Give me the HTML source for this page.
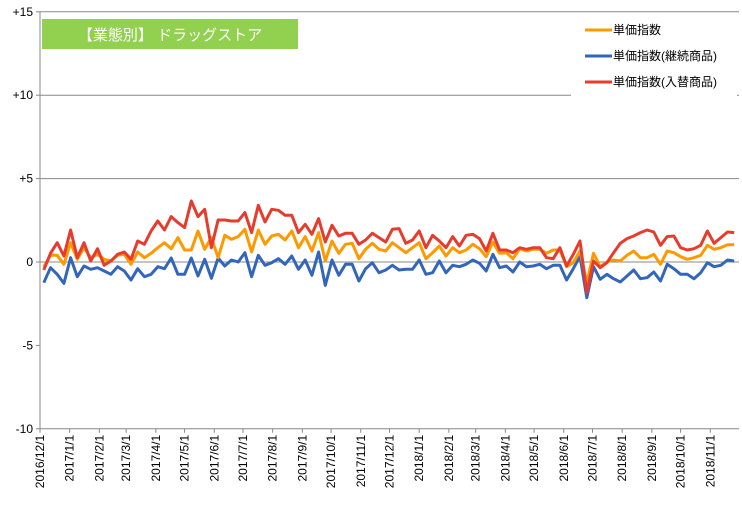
<!DOCTYPE html>
<html><head><meta charset="utf-8"><style>
body{margin:0;background:#fff;}
svg text{font-family:"Liberation Sans","Noto Sans CJK JP",sans-serif;}
</style></head><body>
<svg id="chart" width="742" height="509" xmlns="http://www.w3.org/2000/svg">
<g id="grid"></g>
<g id="yaxis"></g>
<g id="xaxis"></g>
<g id="series"></g>
<rect x="42" y="19" width="256" height="30" fill="#92d050"/>
<text x="170" y="40" text-anchor="middle" font-size="15" fill="#fff">【業態別】 ドラッグストア</text>
<rect x="571" y="13" width="166" height="84" fill="#fff"/>
<g>
<g><line x1="585" y1="30" x2="612" y2="30" stroke="#ff9900" stroke-width="3"/><text x="613" y="34" font-size="12">単価指数</text></g>
<g><line x1="585" y1="56" x2="612" y2="56" stroke="#3366bb" stroke-width="3"/><text x="613" y="60" font-size="12">単価指数(継続商品)</text></g>
<g><line x1="585" y1="82" x2="612" y2="82" stroke="#e63c2e" stroke-width="3"/><text x="613" y="86" font-size="12">単価指数(入替商品)</text></g>
</g>
</svg>
<script>
const yTicks=[15,10,5,0,-5,-10];
const yTickLabels=["+15","+10","+5","0","-5","-10"];
const monthLabels=["2016/12/1","2017/1/1","2017/2/1","2017/3/1","2017/4/1","2017/5/1","2017/6/1","2017/7/1","2017/8/1","2017/9/1","2017/10/1","2017/11/1","2017/12/1","2018/1/1","2018/2/1","2018/3/1","2018/4/1","2018/5/1","2018/6/1","2018/7/1","2018/8/1","2018/9/1","2018/10/1","2018/11/1"];
const firstWeek="2016/12/5";
const unitPrice=[-0.3,0.4,0.4,-0.14,1.16,0.16,0.86,0.26,0.46,0.16,0.06,0.4,0.46,-0.14,0.6,0.26,0.52,0.86,1.16,0.8,1.46,0.72,0.72,1.86,0.76,1.46,0.26,1.6,1.36,1.52,
1.96,0.6,1.92,1.06,1.56,1.66,1.32,1.86,0.86,1.52,0.66,1.76,0.06,1.26,0.52,1.06,1.12,0.2,0.76,1.12,0.76,0.66,1.16,0.86,0.56,0.86,1.16,0.2,0.56,0.96,0.36,0.86,0.56,0.72,1.06,0.8,0.32,
1.2,0.52,0.56,0.2,0.8,0.66,0.76,0.76,0.52,0.72,0.72,-0.28,-0.04,0.66,-1.24,0.52,-0.28,0,0.12,0.06,0.4,0.66,0.26,0.26,0.46,-0.14,0.66,0.56,0.32,0.16,0.26,0.4,1.0,0.76,0.86,1.04,1.04];
const continuing=[-1.24,-0.34,-0.74,-1.28,0.26,-0.88,-0.24,-0.44,-0.34,-0.54,-0.74,-0.28,-0.54,-1.08,-0.4,-0.88,-0.74,-0.28,-0.4,0.24,-0.74,-0.74,0.24,-0.84,0.16,-0.98,0.24,-0.24,0.12,0,
0.56,-0.88,0.4,-0.2,-0.04,0.2,-0.14,0.36,-0.44,0.12,-0.8,0.6,-1.4,0.12,-0.8,-0.14,-0.14,-1.14,-0.4,-0.04,-0.64,-0.48,-0.2,-0.48,-0.44,-0.44,0.12,-0.74,-0.64,0.06,-0.64,-0.2,-0.28,-0.14,0.12,-0.08,-0.54,
0.46,-0.34,-0.24,-0.6,0,-0.28,-0.24,-0.14,-0.4,-0.2,-0.2,-1.08,-0.4,0.36,-2.14,-0.28,-1.04,-0.74,-1.0,-1.2,-0.84,-0.48,-1.0,-0.94,-0.6,-1.14,-0.14,-0.4,-0.74,-0.74,-1.0,-0.64,-0.04,-0.28,-0.2,0.12,0.06];
const replaced=[-0.48,0.52,1.16,0.36,1.92,0.26,1.16,0.06,0.8,-0.2,0.06,0.46,0.6,0.16,1.26,1.06,1.86,2.46,1.92,2.72,2.36,2.06,3.66,2.72,3.16,0.86,2.52,2.52,2.46,2.46,
2.96,1.76,3.4,2.4,3.16,3.1,2.8,2.8,1.76,2.26,1.66,2.6,1.2,2.2,1.56,1.72,1.72,1.06,1.32,1.72,1.46,1.2,1.96,2.0,1.12,1.32,1.86,0.86,1.6,1.26,0.86,1.52,0.96,1.6,1.66,1.4,0.66,
1.72,0.72,0.72,0.56,0.86,0.76,0.86,0.86,0.26,0.2,0.86,-0.24,0.46,1.26,-1.84,0.06,-0.34,-0.04,0.56,1.12,1.4,1.56,1.76,1.92,1.8,1.0,1.52,1.56,0.86,0.72,0.8,1.0,1.86,1.12,1.46,1.8,1.76];

const NS="http://www.w3.org/2000/svg";
const t0=new Date(2016,11,1).getTime(), t1=new Date(2018,11,1).getTime();
const X0=40,X1=739,Y0=262,PPU=16.68;
function xDate(d){return X0+(d.getTime()-t0)/(t1-t0)*(X1-X0);}
function yVal(v){return Y0-v*PPU;}
function parseD(s){const p=s.split('/');return new Date(+p[0],+p[1]-1,+p[2]);}
function mk(tag,attrs,parent){const e=document.createElementNS(NS,tag);for(const k in attrs)e.setAttribute(k,attrs[k]);parent.appendChild(e);return e;}
const grid=document.getElementById('grid'),ya=document.getElementById('yaxis'),xa=document.getElementById('xaxis'),sr=document.getElementById('series');
yTicks.forEach((v,i)=>{
  const y=yVal(v);
  if(v>=0){const g=mk('line',{x1:X0,x2:X1,y1:y,y2:y,stroke:'#888',"stroke-width":1},grid);
  
  }
  mk('line',{x1:X0-4,x2:X0,y1:y,y2:y,stroke:'#888'},ya);
  const t=mk('text',{x:X0-7,y:y+4,"text-anchor":"end","font-size":12},ya);
  t.textContent=yTickLabels[i];
  
  
});
mk('line',{x1:X0,x2:X0,y1:yVal(15),y2:yVal(-10),stroke:'#888'},ya);
mk('line',{x1:X0,x2:X1,y1:yVal(-10),y2:yVal(-10),stroke:'#888'},xa);
monthLabels.forEach(s=>{
  const x=xDate(parseD(s));
  mk('line',{x1:x,x2:x,y1:yVal(-10),y2:yVal(-10)+4,stroke:'#888'},xa);
  const t=mk('text',{x:0,y:0,"text-anchor":"end","font-size":12,transform:`translate(${x+4},${yVal(-10)+6}) rotate(-90)`},xa);
  t.textContent=s;
  
  
});
const start=parseD(firstWeek);
function draw(arr,color,name){
  const pts=arr.map((v,i)=>{const d=new Date(start.getTime()+i*7*86400000);return xDate(d).toFixed(1)+','+yVal(v).toFixed(1);});
  const p=mk('polyline',{points:pts.join(' '),fill:'none',stroke:color,"stroke-width":3,"stroke-linejoin":"round"},sr);
  
  
}
draw(continuing,'#3366bb','line-continuing');
draw(unitPrice,'#ff9900','line-unit-price');
draw(replaced,'#e63c2e','line-replaced');
</script>
</body></html>
